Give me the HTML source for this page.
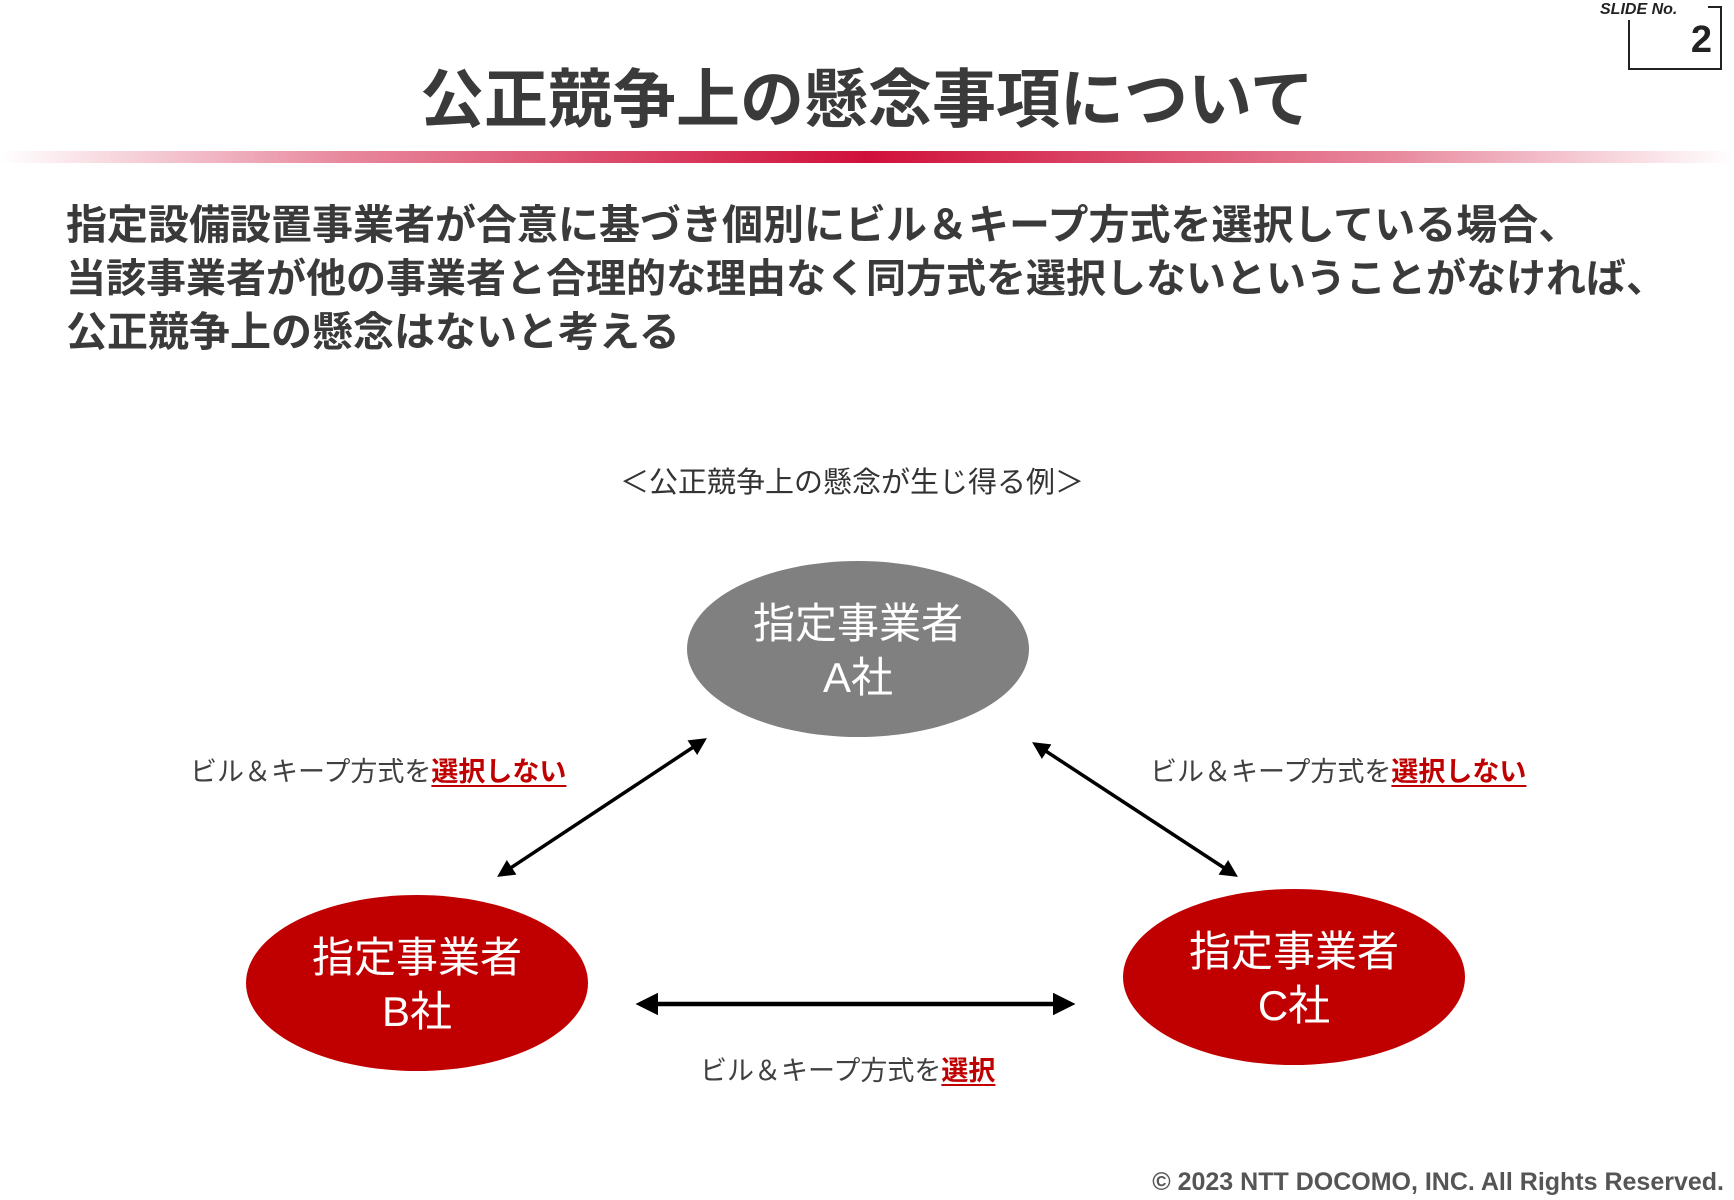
<!DOCTYPE html>
<html><head><meta charset="utf-8"><style>
body{margin:0;width:1734px;height:1200px;background:#fff;position:relative;overflow:hidden;font-family:"Liberation Sans","Noto Sans CJK JP",sans-serif;color:#404040}
.a{position:absolute;white-space:nowrap}
.r{color:#c00000;font-weight:bold;text-decoration:underline;text-decoration-thickness:2px;text-underline-offset:4px}
.lab{font-size:27px;line-height:32px}
</style></head><body>
<div class="a" style="left:1600px;top:1px;font-size:16px;font-weight:bold;font-style:italic;color:#222">SLIDE No.</div>
<div class="a" style="left:1628px;top:20px;width:92px;height:48px;border-left:2px solid #222;border-bottom:2px solid #222"></div>
<div class="a" style="left:1708px;top:6px;width:14px;height:2px;background:#222"></div>
<div class="a" style="left:1720px;top:6px;width:2px;height:64px;background:#222"></div>
<div class="a" style="left:1670px;top:18px;width:42px;text-align:right;font-size:38px;font-weight:bold;color:#222;line-height:44px">2</div>
<div class="a" style="left:0;width:1734px;top:60px;text-align:center;font-size:64px;font-weight:bold;line-height:80px;color:#3a3a3a">公正競争上の懸念事項について</div>
<div class="a" style="left:0;top:151px;width:1734px;height:12px;background:linear-gradient(90deg,rgba(208,16,58,0) 0%,rgba(208,16,58,0.5) 20%,#d0103a 50%,rgba(208,16,58,0.5) 80%,rgba(208,16,58,0) 100%)"></div>
<div class="a" style="left:66px;top:199px;font-size:41px;font-weight:bold;line-height:53px;color:#3a3a3a">指定設備設置事業者が合意に基づき個別にビル＆キープ方式を選択している場合、<br><span style="font-size:40px">当該事業者が他の事業者と合理的な理由なく同方式を選択しないということがなければ、</span><br>公正競争上の懸念はないと考える</div>
<div class="a" style="left:0;width:1704px;top:465px;text-align:center;font-size:29px;line-height:36px;color:#333">＜公正競争上の懸念が生じ得る例＞</div>
<svg class="a" style="left:0;top:0" width="1734" height="1200">
<defs><marker id="m" viewBox="0 0 10 10" refX="8" refY="5" markerWidth="5" markerHeight="5" orient="auto-start-reverse"><path d="M0,0L10,5L0,10z" fill="#000"/></marker></defs>
<ellipse cx="858" cy="649" rx="171" ry="88" fill="#808080"/>
<ellipse cx="417" cy="983" rx="171" ry="88" fill="#c00000"/>
<ellipse cx="1294" cy="977" rx="171" ry="88" fill="#c00000"/>
<line x1="704" y1="740" x2="500" y2="875" stroke="#000" stroke-width="3.5" marker-start="url(#m)" marker-end="url(#m)"/>
<line x1="1035" y1="744" x2="1235" y2="875" stroke="#000" stroke-width="3.5" marker-start="url(#m)" marker-end="url(#m)"/>
<line x1="640" y1="1004" x2="1071" y2="1004" stroke="#000" stroke-width="4.5" marker-start="url(#m)" marker-end="url(#m)"/>
</svg>
<div class="a" style="left:687px;width:342px;top:597px;text-align:center;color:#fff;font-size:42px;line-height:54px">指定事業者<br>A社</div>
<div class="a" style="left:246px;width:342px;top:931px;text-align:center;color:#fff;font-size:42px;line-height:54px">指定事業者<br>B社</div>
<div class="a" style="left:1123px;width:342px;top:925px;text-align:center;color:#fff;font-size:42px;line-height:54px">指定事業者<br>C社</div>
<div class="a lab" style="left:190px;top:756px">ビル＆キープ方式を<span class="r">選択しない</span></div>
<div class="a lab" style="left:1150px;top:756px">ビル＆キープ方式を<span class="r">選択しない</span></div>
<div class="a lab" style="left:700px;top:1055px">ビル＆キープ方式を<span class="r">選択</span></div>
<div class="a" style="right:10px;top:1168px;font-size:25px;font-weight:bold;color:#555">© 2023 NTT DOCOMO, INC. All Rights Reserved.</div>
</body></html>
